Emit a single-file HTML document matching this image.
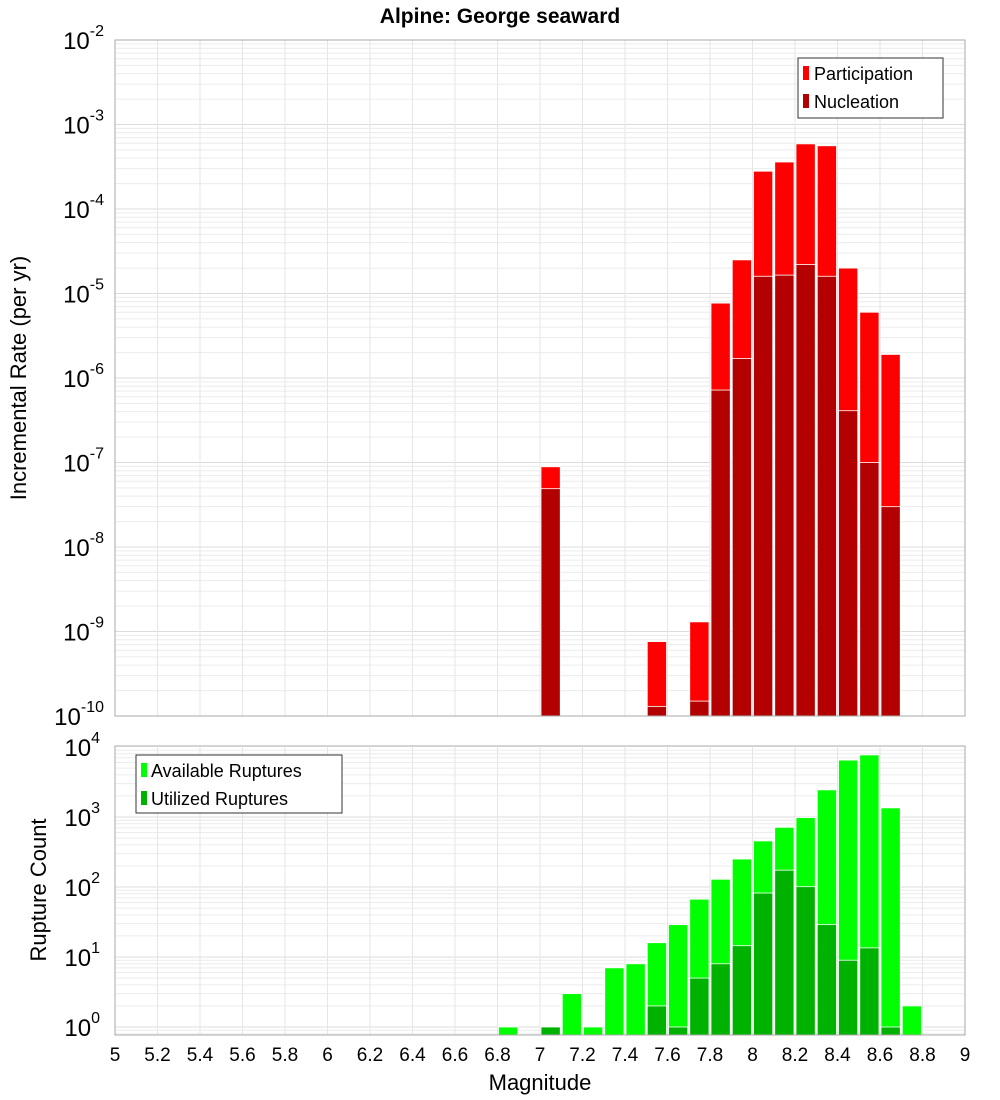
<!DOCTYPE html>
<html><head><meta charset="utf-8"><style>
body{margin:0;background:#fff;}
svg{display:block;font-family:"Liberation Sans","DejaVu Sans",sans-serif;}
</style></head><body>
<svg id="chart" width="1000" height="1100" viewBox="0 0 1000 1100">
<text x="500" y="23" text-anchor="middle" font-size="21" font-weight="bold">Alpine: George seaward</text>
<text transform="translate(26,378) rotate(-90)" text-anchor="middle" font-size="22">Incremental Rate (per yr)</text>
<text transform="translate(46,890) rotate(-90)" text-anchor="middle" font-size="22">Rupture Count</text>
<text x="540" y="1090" text-anchor="middle" font-size="22">Magnitude</text>
<g id="grid"></g><g id="bars"></g><g id="axes"></g>
<g>
<rect x="798" y="58" width="145" height="60" fill="#fff" stroke="#333"/>
<rect x="803" y="66" width="6" height="14" fill="#ff0000"/>
<text x="814" y="80" font-size="18">Participation</text>
<rect x="803" y="94" width="6" height="14" fill="#b30000"/>
<text x="814" y="108" font-size="18">Nucleation</text>
</g>
<g>
<rect x="136" y="755" width="206" height="58" fill="#fff" stroke="#333"/>
<rect x="141" y="763" width="6" height="14" fill="#00ff00"/>
<text x="151" y="777" font-size="18">Available Ruptures</text>
<rect x="141" y="791" width="6" height="14" fill="#00b200"/>
<text x="151" y="805" font-size="18">Utilized Ruptures</text>
</g>
</svg>
<script>
const binCenters=[6.85,7.05,7.15,7.25,7.35,7.45,7.55,7.65,7.75,7.85,7.95,8.05,8.15,8.25,8.35,8.45,8.55,8.65,8.75];
const rateMags=[7.05,7.55,7.75,7.85,7.95,8.05,8.15,8.25,8.35,8.45,8.55,8.65];
const participation=[8.9e-8,7.6e-10,1.3e-9,7.7e-6,2.5e-5,2.8e-4,3.6e-4,5.9e-4,5.6e-4,2.0e-5,6.0e-6,1.9e-6];
const nucleation=[4.9e-8,1.3e-10,1.5e-10,7.2e-7,1.7e-6,1.6e-5,1.65e-5,2.2e-5,1.6e-5,4.1e-7,1.0e-7,3.0e-8];
const available=[1,1,3,1,7,8,16,29,67,129,251,455,712,980,2440,6500,7700,1350,2];
const utilized=[0,1,0,0,0,0,2,1,5,8,14.5,82,174,101,29,9,13.5,1,0];
const xTicks=[5,5.2,5.4,5.6,5.8,6,6.2,6.4,6.6,6.8,7,7.2,7.4,7.6,7.8,8,8.2,8.4,8.6,8.8,9];
const topExps=[-10,-9,-8,-7,-6,-5,-4,-3,-2];
const botExps=[0,1,2,3,4];

const NS="http://www.w3.org/2000/svg";
const X0=115,X1=965;
const xs=m=>X0+(m-5)/4*(X1-X0);
const TOP={y0:40,y1:716,lo:-10,hi:-2};
const BOT={y0:747,y1:1035,yAt0:1027,per:70};
const yTop=v=>TOP.y0+(TOP.hi-Math.log10(v))/(TOP.hi-TOP.lo)*(TOP.y1-TOP.y0);
const yBot=v=>Math.min(BOT.y1,BOT.yAt0-Math.log10(v)*BOT.per);
function mk(tag,attrs,parent,txt){const e=document.createElementNS(NS,tag);for(const k in attrs)e.setAttribute(k,attrs[k]);if(txt!==undefined)e.textContent=txt;parent.appendChild(e);return e;}
const grid=document.getElementById('grid'),bars=document.getElementById('bars'),axes=document.getElementById('axes');
// horizontal grid
for(let d=TOP.lo;d<TOP.hi;d++)for(let k=1;k<10;k++){const y=yTop(k*Math.pow(10,d));mk('line',{x1:X0,x2:X1,y1:y,y2:y,stroke:k==1?'#dcdcdc':'#ececec','stroke-width':1},grid);}
const botLo=(BOT.yAt0-BOT.y1)/BOT.per;
for(let d=-1;d<4;d++)for(let k=1;k<10;k++){const v=k*Math.pow(10,d);const y=BOT.yAt0-Math.log10(v)*BOT.per;if(y>BOT.y1||y<BOT.y0)continue;mk('line',{x1:X0,x2:X1,y1:y,y2:y,stroke:k==1?'#dcdcdc':'#ececec','stroke-width':1},grid);}
xTicks.forEach(t=>{const x=xs(t);mk('line',{x1:x,x2:x,y1:TOP.y0,y2:TOP.y1,stroke:'#e6e6e6'},grid);mk('line',{x1:x,x2:x,y1:BOT.y0,y2:BOT.y1,stroke:'#e6e6e6'},grid);});
// bars
const bw=(X1-X0)/40;
function bar(c,v,yf,base,fill,name){if(!v)return;const y=yf(v);const r=mk('rect',{x:xs(c)-bw/2+1,y:y,width:bw-2,height:base-y,fill:fill,stroke:'#fff','stroke-width':0.8},bars);

}
rateMags.forEach((m,i)=>{bar(m,participation[i],yTop,TOP.y1,'#ff0000','participation-bar-'+m);});
rateMags.forEach((m,i)=>{bar(m,nucleation[i],yTop,TOP.y1,'#b30000','nucleation-bar-'+m);});
binCenters.forEach((m,i)=>{bar(m,available[i],yBot,BOT.y1,'#00ff00','available-bar-'+m);});
binCenters.forEach((m,i)=>{bar(m,utilized[i],yBot,BOT.y1,'#00b200','utilized-bar-'+m);});
// frames
mk('rect',{x:X0,y:TOP.y0,width:X1-X0,height:TOP.y1-TOP.y0,fill:'none',stroke:'#aaa'},axes);
mk('rect',{x:X0,y:BOT.y0-1,width:X1-X0,height:BOT.y1-BOT.y0+1,fill:'none',stroke:'#aaa'},axes);
// y tick labels
topExps.forEach(e=>{const y=yTop(Math.pow(10,e));const t=mk('text',{x:104,y:y+9,'text-anchor':'end','font-size':24},axes);


mk('tspan',{},t,'10');mk('tspan',{dy:-13,'font-size':16},t,String(e));});
botExps.forEach(e=>{const y=BOT.yAt0-e*BOT.per;const t=mk('text',{x:100,y:y+9,'text-anchor':'end','font-size':24},axes);


mk('tspan',{},t,'10');mk('tspan',{dy:-13,'font-size':16},t,String(e));});
xTicks.forEach(v=>{const t=mk('text',{x:xs(v),y:1061,'text-anchor':'middle','font-size':19},axes,String(v));

});
</script>
</body></html>
